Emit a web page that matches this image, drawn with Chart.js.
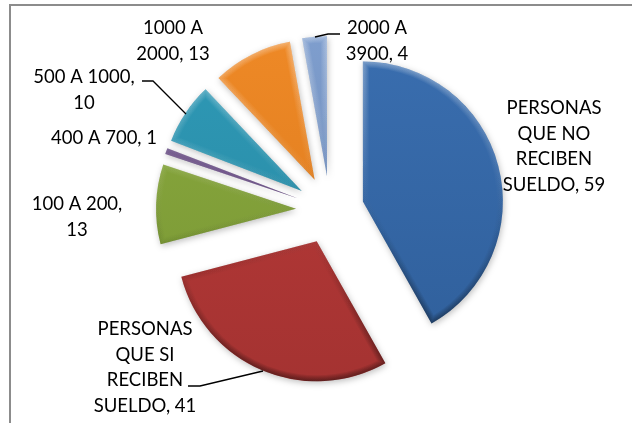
<!DOCTYPE html>
<html>
<head>
<meta charset="utf-8">
<style>
  html, body { margin: 0; padding: 0; background: #fff; overflow: hidden; }
  #frame { position: absolute; left: 9px; top: 4px; width: 640px; height: 440px; border: 2px solid #8c8c8c; }
  #pie { position: absolute; left: 0; top: 0; }
</style>
</head>
<body>
<div id="frame"></div>
<canvas id="pie" width="632" height="423"></canvas>
<script src="https://cdn.jsdelivr.net/npm/chart.js@4"></script>
<script>
const categories = ['PERSONAS QUE NO RECIBEN SUELDO', 'PERSONAS QUE SI RECIBEN SUELDO', '100 A 200', '400 A 700', '500 A 1000', '1000 A 2000', '2000 A 3900'];
const values = [59, 41, 13, 1, 10, 13, 4];
const colors = ['#3b70b2', '#bb3b39', '#8cab3f', '#73578f', '#2f9cba', '#f28c28', '#84a4d4'];
const darkColors = ['#2e5d98', '#a03130', '#769433', '#5f4678', '#28869f', '#d9781c', '#6480ad'];

// where each label is wrapped and placed
const labelBreaks = [
  ['PERSONAS', 'QUE NO', 'RECIBEN', 'SUELDO, 59'],
  ['PERSONAS', 'QUE SI', 'RECIBEN', 'SUELDO, 41'],
  ['100 A 200,', '13'],
  ['400 A 700, 1'],
  ['500 A 1000,', '10'],
  ['1000 A', '2000, 13'],
  ['2000 A', '3900, 4']
];
const labelX = [554, 145, 77, 104, 84, 173, 377];
const labelY = [108, 329, 204, 138, 77, 28, 28];
const lineGap = 25.7;
const leaders = [
  [[142, 81], [153, 81], [186, 114]],
  [[340, 34], [328, 34], [315, 37]],
  [[188, 386], [200, 386], [263, 371]]
];
const explode = 34;

// the built-in offset also changes the radius by slice size, so move the slices here
const baseDraw = Chart.ArcElement.prototype.draw;
Chart.ArcElement.prototype.draw = function (ctx) {
  const mid = (this.startAngle + this.endAngle) / 2;
  ctx.save();
  ctx.translate(Math.cos(mid) * explode, Math.sin(mid) * explode);
  baseDraw.call(this, ctx);
  ctx.restore();
};

const labelPlugin = {
  id: 'labelPlugin',
  afterDraw(chart) {
    const c = chart.ctx;
    c.save();
    c.fillStyle = '#000';
    c.font = '18.5px Lato';
    c.textAlign = 'center';
    c.textBaseline = 'middle';
    labelBreaks.forEach((lines, i) => {
      lines.forEach((t, j) => c.fillText(t, labelX[i], labelY[i] + j * lineGap));
    });
    c.strokeStyle = '#000';
    c.lineWidth = 1.3;
    leaders.forEach(pts => {
      c.beginPath();
      pts.forEach((p, k) => k ? c.lineTo(p[0], p[1]) : c.moveTo(p[0], p[1]));
      c.stroke();
    });
    c.restore();
  }
};

// soft shadow under the slices, inner bevel on top
const bevelPlugin = {
  id: 'bevelPlugin',
  beforeDatasetDraw(chart) {
    const c = chart.ctx;
    c.save();
    c.shadowColor = 'rgba(0,0,0,0.25)';
    c.shadowBlur = 6;
    c.shadowOffsetX = 1;
    c.shadowOffsetY = 2;
  },
  afterDatasetDraw(chart) {
    const c = chart.ctx;
    c.restore();
    chart.getDatasetMeta(0).data.forEach(arc => {
      const mid = (arc.startAngle + arc.endAngle) / 2;
      const x = arc.x + Math.cos(mid) * explode;
      const y = arc.y + Math.sin(mid) * explode;
      const r = arc.outerRadius;
      c.save();
      c.beginPath();
      c.moveTo(x, y);
      c.arc(x, y, r, arc.startAngle, arc.endAngle);
      c.closePath();
      c.clip();
      const g = c.createLinearGradient(0, y - r, 0, y + r);
      g.addColorStop(0, 'rgba(255,255,255,0.45)');
      g.addColorStop(0.4, 'rgba(255,255,255,0.1)');
      g.addColorStop(0.6, 'rgba(0,0,0,0.1)');
      g.addColorStop(1, 'rgba(0,0,0,0.6)');
      c.strokeStyle = g;
      c.lineJoin = 'miter';
      c.globalAlpha = 0.14;
      for (let w = 12; w >= 2; w -= 2) {
        c.lineWidth = w;
        c.stroke();
      }
      c.restore();
    });
  }
};

new Chart(document.getElementById('pie'), {
  type: 'pie',
  data: {
    labels: categories,
    datasets: [{
      data: values,
      backgroundColor(ctx) {
        const area = ctx.chart.chartArea;
        if (!area) return colors[ctx.dataIndex];
        const g = ctx.chart.ctx.createLinearGradient(0, area.top, 0, area.bottom);
        g.addColorStop(0, colors[ctx.dataIndex]);
        g.addColorStop(1, darkColors[ctx.dataIndex]);
        return g;
      },
      borderWidth: 0
    }]
  },
  options: {
    responsive: false,
    animation: false,
    radius: 140,
    layout: { padding: { left: 28, bottom: 3 } },
    plugins: {
      legend: { display: false },
      tooltip: { enabled: false }
    }
  },
  plugins: [bevelPlugin, labelPlugin]
});
</script>
</body>
</html>
